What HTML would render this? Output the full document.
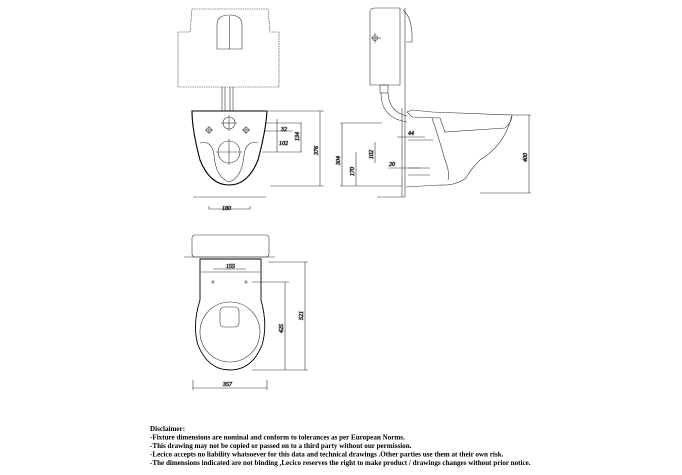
<!DOCTYPE html>
<html><head><meta charset="utf-8"><style>
html,body{margin:0;padding:0;background:#fff;}
svg{display:block;}
text{font-family:"Liberation Serif",serif;font-style:italic;font-size:6px;fill:#000;}
.d{font-style:normal;font-weight:bold;font-size:7.1px;}
</style></head><body>
<svg width="682" height="475" viewBox="0 0 682 475" xmlns="http://www.w3.org/2000/svg" fill="none" stroke="#333" stroke-width="0.6">
<!-- FRONT VIEW -->
<polyline points="190,32 192,9 268,9 270,32 279,32 279,87 178,87 178,32 190,32" stroke-dasharray="1.5,0.8"/>
<path d="M217,49 V25 Q217,15 229.5,15 Q242,15 242,25 V49 Z"/>
<line x1="229.5" y1="16" x2="229.5" y2="49"/>
<line x1="222" y1="87" x2="222" y2="111"/><line x1="225" y1="87" x2="225" y2="111"/>
<line x1="230" y1="87" x2="230" y2="111"/><line x1="233" y1="87" x2="233" y2="111"/>
<path d="M192,111 L267,111 Q266,130 258,160 Q248,185 229,185 Q210,185 200,160 Q192,130 192,111 Z" stroke="#000" stroke-width="1.1"/>
<path d="M200,143 Q212,140 214,155 Q216,178 229,182 Q242,178 244,155 Q246,140 258,143"/>
<circle cx="229" cy="123" r="6"/><line x1="221" y1="123" x2="237" y2="123"/><line x1="229" y1="115" x2="229" y2="131"/>
<circle cx="229" cy="152" r="11"/><line x1="216" y1="152" x2="242" y2="152"/><line x1="229" y1="139" x2="229" y2="165"/>
<circle cx="209" cy="130" r="2.5"/><line x1="205" y1="130" x2="213" y2="130"/><line x1="209" y1="126" x2="209" y2="134"/>
<circle cx="246" cy="130" r="2.5"/><line x1="242" y1="130" x2="250" y2="130"/><line x1="246" y1="126" x2="246" y2="134"/>
<!-- front dims -->
<line x1="265" y1="123" x2="302" y2="123"/><line x1="265" y1="131" x2="293" y2="131"/><line x1="262" y1="152" x2="302" y2="152"/>
<line x1="277" y1="119" x2="277" y2="152"/><line x1="301" y1="123" x2="301" y2="152"/>
<text x="281" y="131" font-size="5">32</text>
<text x="279" y="145" font-size="5">102</text>
<text transform="translate(299,141) rotate(-90)">134</text>
<line x1="265" y1="111" x2="324" y2="111"/><line x1="270" y1="186" x2="324" y2="186"/>
<line x1="320" y1="111" x2="320" y2="186"/>
<text transform="translate(318,155) rotate(-90)">376</text>
<line x1="193" y1="197" x2="266" y2="197"/>
<path d="M209,206 V209 H250 V206"/>
<text x="222" y="210">180</text>
<!-- SIDE VIEW -->
<path d="M370,12 Q370,8 375,8 H400 V85 H370 Z"/>
<path d="M403,10 Q413,18 412,42 L406,42"/>
<circle cx="375" cy="38" r="2.5"/><line x1="371" y1="38" x2="381" y2="38"/><line x1="375" y1="33" x2="375" y2="43"/>
<rect x="380" y="85" width="8" height="8"/>
<path d="M381,93 Q381,118 407,122 M388,93 Q389,112 407,116"/>
<line x1="405" y1="8" x2="405" y2="197"/><line x1="402" y1="108" x2="402" y2="197"/>
<line x1="377" y1="197" x2="405" y2="197"/>
<path d="M407,112 L412,110 L432,112 L512,115 Q512,122 505,128 L445,132 L440,118 L412,117 Z"/>
<path d="M512,115 Q505,145 480,160 Q470,170 466,178 Q455,186 440,185 L406,187"/>
<path d="M432,118 Q438,135 445,160 Q450,172 448,180"/>
<line x1="408" y1="140" x2="433" y2="140"/><line x1="408" y1="168" x2="430" y2="168"/>
<line x1="408" y1="175" x2="430" y2="175"/>
<!-- side dims -->
<line x1="340" y1="123" x2="382" y2="123"/><line x1="340" y1="186" x2="402" y2="186"/>
<line x1="342" y1="123" x2="342" y2="186"/>
<text transform="translate(340,165) rotate(-90)">304</text>
<line x1="356" y1="152" x2="356" y2="186"/>
<text transform="translate(354,176) rotate(-90)">170</text>
<line x1="375" y1="142" x2="375" y2="163"/>
<text transform="translate(373,159) rotate(-90)">102</text>
<line x1="397" y1="137" x2="425" y2="137"/><text x="408" y="135" font-size="5">44</text>
<line x1="388" y1="168" x2="420" y2="168"/><text x="389" y="166" font-size="5">20</text>
<line x1="512" y1="115" x2="531" y2="115"/><line x1="480" y1="193" x2="531" y2="193"/>
<line x1="529" y1="115" x2="529" y2="193"/>
<text transform="translate(527,162) rotate(-90)">400</text>
<!-- TOP VIEW -->
<rect x="192" y="235" width="77" height="22" rx="3"/>
<line x1="184" y1="257" x2="275" y2="257"/>
<path d="M200,259 H261 L261,300 Q268,325 262,345 Q252,370 230,370 Q208,370 198,345 Q192,325 200,300 Z" stroke="#000" stroke-width="0.9"/>
<line x1="201" y1="272" x2="260" y2="272"/>
<line x1="213" y1="269" x2="246" y2="269"/><text x="226" y="268" font-size="5">155</text>
<path d="M211,282 h4 M213,280 v4 M244,282 h4 M246,280 v4"/>
<circle cx="230" cy="332" r="30"/>
<rect x="220" y="307" width="19" height="20" rx="4"/>
<line x1="252" y1="282" x2="289" y2="282"/><line x1="252" y1="370" x2="308" y2="370"/><line x1="268" y1="262" x2="308" y2="262"/>
<line x1="285" y1="282" x2="285" y2="370"/>
<text transform="translate(283,333) rotate(-90)">425</text>
<line x1="305" y1="262" x2="305" y2="370"/>
<text transform="translate(303,320) rotate(-90)">521</text>
<line x1="193" y1="380" x2="193" y2="390"/><line x1="267" y1="380" x2="267" y2="390"/>
<line x1="193" y1="388" x2="267" y2="388"/>
<text x="223" y="386" font-size="7">357</text>
<!-- Disclaimer -->
<g stroke="none">
<text class="d" x="150" y="431">Disclaimer:</text>
<text class="d" x="150" y="439.5">-Fixture dimensions are nominal and conform to tolerances as per European Norms.</text>
<text class="d" x="150" y="448">-This drawing may not be copied or passed on to a third party without our permission.</text>
<text class="d" x="150" y="456.5">-Lecico accepts no liability whatsoever for this data and technical drawings .Other parties use them at their own risk.</text>
<text class="d" x="150" y="465">-The dimensions indicated are not binding ,Lecico reserves the right to make product / drawings changes without prior notice.</text>
</g>
</svg>
</body></html>
